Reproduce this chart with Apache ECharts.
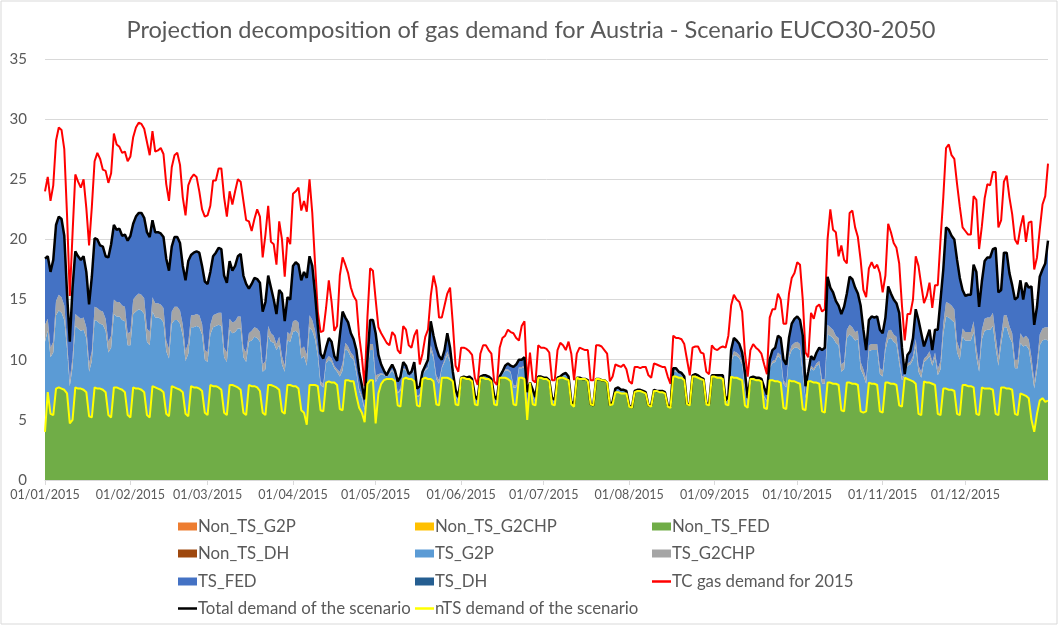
<!DOCTYPE html>
<html>
<head>
<meta charset="utf-8">
<script src="https://cdn.jsdelivr.net/npm/echarts@6/dist/echarts.min.js"></script>
<style>
  html, body { margin: 0; padding: 0; background: #fff; }
  #chart { width: 1062px; height: 626px; }
</style>
</head>
<body>
<div id="chart"></div>
<script>
// Daily gas demand, Austria, 2015 (one row = one week, Thu..Wed)

// non-TS final energy demand (green area, also the yellow nTS line)
var NON_TS_FED = [
  4.0, 7.3, 5.5, 5.4, 7.6, 7.7, 7.6,
  7.5, 7.2, 4.7, 5.0, 7.7, 7.6, 7.6,
  7.5, 7.3, 5.3, 5.2, 7.7, 7.6, 7.6,
  7.5, 7.3, 5.4, 5.2, 7.7, 7.7, 7.6,
  7.5, 7.3, 5.4, 5.2, 7.7, 7.6, 7.6,
  7.5, 7.3, 5.4, 5.2, 7.8, 7.7, 7.6,
  7.5, 7.3, 5.5, 5.3, 7.8, 7.7, 7.6,
  7.5, 7.3, 5.5, 5.3, 7.8, 7.7, 7.7,
  7.6, 7.4, 5.6, 5.4, 7.9, 7.8, 7.8,
  7.7, 7.5, 5.6, 5.4, 7.9, 7.9, 7.8,
  7.7, 7.5, 5.6, 5.4, 7.9, 7.8, 7.8,
  7.7, 7.4, 5.6, 5.4, 7.9, 7.9, 7.8,
  7.7, 7.5, 5.7, 5.5, 7.9, 7.9, 7.8,
  7.8, 7.6, 5.8, 5.6, 4.6, 7.9, 7.9,
  7.9, 7.8, 5.8, 5.7, 8.1, 8.2, 8.1,
  8.1, 7.9, 5.9, 5.8, 8.3, 8.3, 8.2,
  8.2, 7.0, 6.0, 5.6, 4.8, 8.0, 8.3,
  8.3, 4.7, 7.2, 8.0, 8.3, 8.4, 8.4,
  8.4, 8.2, 6.2, 6.1, 8.4, 8.5, 8.4,
  8.4, 8.2, 6.2, 6.1, 8.4, 8.5, 8.4,
  8.4, 8.2, 6.3, 6.2, 8.5, 8.5, 8.5,
  8.4, 8.2, 6.3, 6.2, 8.5, 8.5, 8.4,
  8.4, 8.2, 6.3, 6.2, 8.5, 8.5, 8.4,
  8.4, 8.2, 6.3, 6.2, 8.5, 8.5, 8.5,
  8.4, 8.2, 6.3, 6.2, 8.5, 8.5, 8.4,
  5.0, 8.1, 6.3, 6.2, 8.5, 8.5, 8.4,
  8.4, 8.2, 6.3, 6.2, 8.4, 8.5, 8.5,
  8.4, 8.3, 6.3, 6.1, 8.5, 8.4, 8.4,
  8.4, 8.2, 6.3, 6.2, 8.4, 8.4, 8.3,
  8.3, 8.1, 6.2, 6.3, 7.3, 7.3, 7.2,
  7.2, 7.2, 6.1, 6.0, 7.3, 7.4, 7.4,
  7.3, 7.2, 6.2, 6.1, 7.4, 7.4, 7.3,
  7.3, 7.2, 6.1, 6.0, 8.6, 8.6, 8.5,
  8.5, 8.3, 6.3, 6.2, 8.6, 8.6, 8.5,
  8.4, 8.3, 6.3, 6.2, 8.6, 8.6, 8.5,
  8.5, 8.4, 6.3, 6.2, 8.6, 8.5, 8.5,
  8.4, 8.3, 6.2, 6.0, 8.4, 8.4, 8.3,
  8.3, 8.2, 6.0, 5.9, 8.3, 8.3, 8.2,
  8.2, 8.1, 6.0, 5.9, 8.3, 8.2, 8.2,
  8.1, 8.0, 5.9, 5.8, 8.2, 8.2, 8.1,
  8.1, 8.0, 5.7, 5.6, 8.1, 8.1, 8.0,
  8.0, 7.9, 5.8, 5.7, 8.1, 8.1, 8.0,
  8.0, 7.9, 5.7, 5.6, 5.7, 8.1, 8.0,
  8.0, 7.9, 5.7, 5.6, 8.1, 8.1, 8.0,
  8.0, 7.9, 6.2, 6.1, 8.5, 8.4, 8.3,
  8.2, 8.0, 5.5, 5.4, 8.2, 8.1, 8.1,
  8.0, 7.9, 5.5, 5.4, 7.6, 7.6, 7.5,
  7.5, 7.4, 5.5, 5.4, 7.9, 7.9, 7.8,
  7.8, 7.7, 5.5, 5.4, 7.7, 7.6, 7.6,
  7.6, 7.5, 5.5, 5.4, 7.7, 7.7, 7.6,
  7.6, 7.5, 5.5, 5.4, 7.2, 7.1, 7.0,
  6.8, 5.0, 4.0, 5.5, 6.6, 6.8, 6.5,
  6.6
];

var TS_G2P = [
  7.5, 5.1, 4.7, 5.2, 6.1, 6.4, 6.3,
  5.8, 3.7, 3.1, 4.4, 5.1, 5.0, 4.8,
  5.0, 4.5, 3.7, 4.7, 5.6, 5.6, 5.4,
  5.4, 5.1, 5.2, 5.8, 6.1, 5.9, 6.0,
  5.8, 5.9, 5.8, 6.0, 6.1, 6.4, 6.6,
  6.6, 6.5, 6.1, 6.0, 6.2, 5.8, 5.9,
  5.9, 5.8, 5.2, 4.8, 5.2, 5.6, 5.7,
  5.5, 4.7, 4.4, 5.2, 4.9, 5.0, 5.1,
  5.1, 4.7, 4.4, 4.4, 4.2, 4.9, 5.0,
  5.2, 5.3, 4.6, 4.4, 4.6, 4.3, 4.5,
  4.9, 5.1, 4.6, 4.4, 3.6, 3.8, 4.1,
  4.1, 4.1, 3.4, 3.8, 4.1, 3.6, 3.6,
  3.1, 3.7, 3.9, 3.5, 3.7, 3.6, 4.5,
  4.6, 4.6, 4.3, 4.7, 4.9, 4.8, 4.5,
  3.8, 2.5, 2.1, 2.0, 1.6, 1.8, 1.7,
  1.2, 1.1, 2.7, 3.3, 2.6, 2.4, 2.0,
  1.8, 1.9, 1.4, 1.2, 1.0, 1.1, 2.5,
  2.5, 3.4, 1.4, 0.8, 0.4, 0.2, 0.4,
  0.7, 0.5, 1.0, 1.3, 0.8, 0.6, 0.2,
  0.3, 0.9, 0.7, 0.9, 0.3, 0.6, 0.9,
  2.4, 1.9, 2.1, 1.8, 0.8, 1.3, 1.9,
  1.4, 0.4, 0.6, 0.4, 0.0, 0.1, 0.1,
  0.1, 0.1, 0.4, 0.3, 0.1, 0.1, 0.2,
  0.1, 0.1, 0.4, 0.3, 0.1, 0.3, 0.6,
  0.7, 0.7, 1.4, 1.5, 0.8, 0.8, 1.0,
  1.2, 0.0, 0.6, 0.3, 0.1, 0.1, 0.1,
  0.1, 0.1, 0.3, 0.3, 0.1, 0.1, 0.2,
  0.3, 0.2, 0.1, 0.1, 0.0, 0.1, 0.0,
  0.0, 0.1, 0.0, 0.0, 0.0, 0.0, 0.0,
  0.0, 0.0, 0.0, 0.1, 0.2, 0.2, 0.2,
  0.2, 0.1, 0.1, 0.0, 0.1, 0.1, 0.1,
  0.1, 0.1, 0.0, 0.1, 0.1, 0.0, 0.1,
  0.1, 0.1, 0.1, 0.1, 0.4, 0.4, 0.3,
  0.2, 0.2, 0.0, 0.1, 0.1, 0.1, 0.1,
  0.1, 0.1, 0.1, 0.1, 0.1, 0.1, 0.1,
  0.1, 0.2, 0.2, 0.4, 1.2, 1.9, 1.8,
  1.7, 1.3, 1.4, 0.4, 0.1, 0.1, 0.1,
  0.1, 0.1, 0.9, 0.6, 1.0, 1.4, 1.6,
  2.1, 2.0, 2.0, 1.8, 1.9, 2.6, 2.8,
  2.9, 2.8, 2.9, 1.0, 0.4, 1.1, 1.0,
  1.4, 1.6, 2.3, 2.4, 4.0, 3.9, 3.8,
  3.4, 3.3, 3.2, 3.5, 3.7, 4.0, 3.9,
  3.6, 3.8, 3.5, 3.1, 2.3, 2.6, 2.8,
  2.8, 2.9, 3.1, 3.0, 2.7, 3.6, 3.8,
  3.5, 3.4, 3.5, 2.2, 0.2, 1.1, 1.3,
  1.8, 3.1, 3.5, 3.1, 1.6, 1.9, 2.2,
  1.5, 2.3, 3.2, 3.8, 4.5, 6.0, 6.0,
  5.8, 5.7, 5.1, 4.6, 4.0, 3.7, 3.8,
  3.8, 4.6, 4.7, 3.6, 4.0, 4.8, 4.9,
  4.9, 5.3, 5.5, 4.1, 3.6, 5.0, 5.1,
  4.3, 3.9, 3.8, 3.9, 4.2, 4.0, 4.2,
  4.1, 4.4, 3.6, 3.6, 4.6, 4.8, 5.2,
  5.0
];

var TS_G2CHP = [
  1.4, 1.0, 0.8, 0.9, 1.2, 1.3, 1.3,
  1.2, 0.7, 0.5, 0.8, 1.0, 1.0, 1.0,
  1.0, 0.9, 0.7, 0.8, 1.1, 1.1, 1.1,
  1.1, 1.0, 0.9, 1.0, 1.2, 1.2, 1.2,
  1.2, 1.2, 1.0, 1.1, 1.2, 1.3, 1.3,
  1.3, 1.3, 1.1, 1.1, 1.2, 1.2, 1.2,
  1.2, 1.2, 0.9, 0.8, 1.0, 1.1, 1.1,
  1.1, 0.9, 0.8, 0.9, 1.0, 1.0, 1.0,
  1.0, 0.9, 0.8, 0.8, 0.8, 1.0, 1.0,
  1.0, 1.1, 0.8, 0.8, 0.9, 0.9, 0.9,
  1.0, 1.0, 0.8, 0.8, 0.7, 0.8, 0.8,
  0.8, 0.8, 0.6, 0.7, 0.8, 0.7, 0.6,
  0.5, 0.7, 0.7, 0.5, 0.7, 0.6, 0.9,
  0.9, 0.9, 0.8, 0.8, 0.9, 1.0, 0.9,
  0.7, 0.5, 0.3, 0.3, 0.3, 0.3, 0.3,
  0.2, 0.2, 0.4, 0.6, 0.5, 0.4, 0.4,
  0.3, 0.3, 0.2, 0.2, 0.2, 0.2, 0.5,
  0.5, 0.6, 0.2, 0.1, 0.1, 0.0, 0.1,
  0.1, 0.1, 0.1, 0.2, 0.1, 0.1, 0.0,
  0.0, 0.1, 0.1, 0.1, 0.0, 0.1, 0.1,
  0.4, 0.3, 0.3, 0.3, 0.1, 0.2, 0.3,
  0.2, 0.1, 0.1, 0.0, 0.0, 0.0, 0.0,
  0.0, 0.0, 0.0, 0.0, 0.0, 0.0, 0.0,
  0.0, 0.0, 0.0, 0.0, 0.0, 0.0, 0.1,
  0.1, 0.1, 0.2, 0.2, 0.1, 0.1, 0.1,
  0.2, 0.0, 0.1, 0.0, 0.0, 0.0, 0.0,
  0.0, 0.0, 0.0, 0.0, 0.0, 0.0, 0.0,
  0.0, 0.0, 0.0, 0.0, 0.0, 0.0, 0.0,
  0.0, 0.0, 0.0, 0.0, 0.0, 0.0, 0.0,
  0.0, 0.0, 0.0, 0.0, 0.0, 0.0, 0.0,
  0.0, 0.0, 0.0, 0.0, 0.0, 0.0, 0.0,
  0.0, 0.0, 0.0, 0.0, 0.0, 0.0, 0.0,
  0.0, 0.0, 0.0, 0.0, 0.1, 0.1, 0.0,
  0.0, 0.0, 0.0, 0.0, 0.0, 0.0, 0.0,
  0.0, 0.0, 0.0, 0.0, 0.0, 0.0, 0.0,
  0.0, 0.0, 0.0, 0.1, 0.2, 0.3, 0.3,
  0.3, 0.2, 0.2, 0.1, 0.0, 0.0, 0.0,
  0.0, 0.0, 0.1, 0.1, 0.1, 0.2, 0.2,
  0.3, 0.3, 0.3, 0.3, 0.3, 0.4, 0.4,
  0.5, 0.5, 0.4, 0.1, 0.1, 0.2, 0.2,
  0.2, 0.3, 0.4, 0.4, 0.8, 0.7, 0.7,
  0.6, 0.6, 0.6, 0.6, 0.7, 0.8, 0.8,
  0.7, 0.7, 0.6, 0.5, 0.4, 0.5, 0.5,
  0.5, 0.5, 0.5, 0.5, 0.5, 0.7, 0.7,
  0.6, 0.6, 0.5, 0.3, 0.0, 0.2, 0.2,
  0.3, 0.6, 0.5, 0.5, 0.3, 0.3, 0.4,
  0.3, 0.4, 0.5, 0.7, 0.9, 1.2, 1.2,
  1.2, 1.1, 0.9, 0.8, 0.7, 0.7, 0.7,
  0.7, 0.9, 0.8, 0.6, 0.8, 1.0, 1.0,
  1.0, 1.1, 1.0, 0.7, 0.7, 1.0, 1.0,
  0.9, 0.8, 0.7, 0.7, 0.8, 0.7, 0.8,
  0.8, 0.8, 0.6, 0.6, 0.9, 1.0, 1.0,
  1.1
];

// total demand of the scenario (black line, top of the stack)
var TOTAL = [
  18.4, 18.6, 17.3, 18.3, 21.2, 21.9, 21.7,
  20.3, 15.5, 11.5, 16.0, 19.0, 18.6, 18.3,
  18.6, 17.3, 14.6, 16.9, 20.1, 20.0, 19.5,
  19.4, 18.6, 18.5, 19.6, 21.2, 20.8, 20.9,
  20.3, 20.4, 19.9, 20.3, 21.3, 21.9, 22.2,
  22.2, 21.8, 20.6, 20.2, 21.6, 20.6, 20.6,
  20.5, 20.2, 18.4, 17.4, 19.4, 20.2, 20.2,
  19.7, 17.8, 16.6, 18.2, 18.7, 18.9, 19.0,
  18.9, 17.8, 16.5, 16.3, 17.3, 18.6, 18.9,
  19.3, 19.2, 17.0, 16.4, 18.2, 17.4, 17.8,
  18.6, 18.8, 17.0, 16.3, 15.9, 16.3, 16.8,
  16.7, 16.4, 14.0, 14.8, 17.0, 16.0, 15.0,
  13.8, 15.8, 15.5, 13.2, 15.2, 15.0, 17.8,
  18.1, 17.9, 16.6, 17.3, 16.8, 18.6, 17.8,
  15.5, 12.8, 10.5, 10.1, 11.0, 11.8, 11.5,
  10.3, 9.9, 12.0, 14.0, 13.5, 13.1, 12.2,
  11.7, 10.8, 9.0, 7.9, 6.7, 10.0, 13.3,
  13.3, 12.2, 10.4, 9.6, 9.1, 8.7, 9.2,
  9.6, 9.1, 8.2, 8.6, 9.8, 9.5, 8.8,
  9.0, 9.8, 7.6, 7.8, 9.0, 9.5, 10.0,
  13.2, 12.0, 11.0, 10.3, 10.0, 10.8, 12.2,
  11.0, 9.0, 7.5, 6.9, 8.5, 8.6, 8.5,
  8.6, 8.4, 7.0, 6.7, 8.6, 8.7, 8.7,
  8.6, 8.4, 7.0, 6.7, 8.6, 9.0, 9.5,
  9.7, 9.5, 9.4, 9.6, 10.0, 10.0, 10.2,
  7.3, 8.1, 7.5, 6.9, 8.6, 8.6, 8.5,
  8.5, 8.3, 6.8, 6.7, 8.5, 8.6, 8.8,
  8.9, 8.6, 6.5, 6.3, 8.5, 8.5, 8.4,
  8.4, 8.3, 6.3, 6.2, 8.4, 8.4, 8.3,
  8.3, 8.1, 6.2, 6.5, 7.6, 7.7, 7.5,
  7.5, 7.4, 6.2, 6.0, 7.4, 7.5, 7.5,
  7.4, 7.3, 6.2, 6.2, 7.5, 7.4, 7.4,
  7.4, 7.3, 6.2, 6.1, 9.3, 9.3, 9.0,
  8.9, 8.6, 6.3, 6.3, 8.7, 8.8, 8.7,
  8.5, 8.4, 6.4, 6.3, 8.7, 8.7, 8.7,
  8.7, 8.7, 6.6, 7.0, 10.8, 11.8, 11.6,
  11.3, 10.6, 9.0, 6.8, 8.5, 8.6, 8.5,
  8.5, 8.4, 7.7, 7.1, 10.0, 10.8, 11.0,
  12.0, 11.8, 10.0, 9.6, 11.8, 13.0, 13.4,
  13.6, 13.3, 12.0, 7.8, 9.0, 10.3, 10.0,
  10.6, 11.0, 10.8, 11.0, 16.9, 16.0, 15.6,
  14.9, 14.5, 13.8, 14.4, 15.5, 16.9, 16.7,
  16.0, 15.5, 14.5, 12.5, 10.8, 13.3, 13.6,
  13.5, 13.6, 12.5, 12.2, 13.5, 16.1, 15.5,
  15.0, 14.7, 13.9, 11.0, 8.8, 10.4, 10.7,
  11.8, 14.2, 13.3, 12.2, 11.1, 11.8, 12.5,
  10.8, 12.5, 12.5, 15.0, 17.5, 21.0, 20.8,
  20.3, 20.0, 18.3, 16.8, 15.8, 15.3, 15.4,
  15.4, 17.9, 17.3, 14.4, 16.5, 18.2, 18.5,
  18.5, 19.2, 19.3, 15.6, 15.8, 18.9, 18.9,
  17.2, 16.2, 15.0, 15.2, 16.6, 15.0, 16.4,
  16.0, 16.1, 12.9, 14.4, 16.9, 17.5, 18.0,
  19.9
];

// TC gas demand for 2015 (red line)
var TC_2015 = [
  24.0, 25.2, 23.2, 24.5, 28.2, 29.3, 29.1,
  27.5, 22.0, 15.3, 20.5, 25.4, 24.8, 24.3,
  25.0, 22.6, 19.5, 22.7, 26.5, 27.2, 26.7,
  25.8, 25.7, 24.7, 25.5, 28.8, 27.9, 27.7,
  27.2, 27.3, 26.5, 26.9, 28.5, 29.3, 29.7,
  29.6, 29.2, 28.1, 27.0, 29.0, 27.3, 27.4,
  27.6, 27.1, 24.6, 23.2, 26.0, 27.0, 27.2,
  26.2, 23.5, 22.0, 24.5, 25.1, 25.4, 25.2,
  24.0, 22.5, 21.9, 22.0, 22.8, 24.9, 24.9,
  25.9, 25.9, 23.5, 21.9, 24.0, 22.9, 24.0,
  25.0, 24.8, 23.2, 21.6, 21.5, 20.7, 21.7,
  22.5, 21.9, 18.5, 20.4, 22.8, 19.8, 19.6,
  17.9, 21.5, 20.0, 16.9, 20.2, 19.6, 23.8,
  24.0, 24.3, 22.4, 23.2, 22.3, 25.0, 22.2,
  18.0, 14.0, 12.3, 12.4, 14.3, 16.6, 14.8,
  12.4, 12.8, 17.0, 18.5, 17.9, 17.2, 16.0,
  15.3, 14.9, 12.0, 10.2, 7.8, 13.5, 17.6,
  17.4, 15.0, 12.7, 12.2, 11.8, 11.4, 11.2,
  12.3, 12.0, 10.8, 10.5, 12.8, 12.5, 11.2,
  11.0, 12.0, 12.5, 9.6, 10.5, 11.9, 12.5,
  15.3, 17.0, 16.0, 13.5, 13.5, 14.5, 15.5,
  16.0, 13.0, 9.5, 9.0, 11.0, 11.0, 10.9,
  10.7, 10.4, 8.5, 7.9, 10.5, 11.2, 11.2,
  10.8, 10.5, 8.2, 7.9, 11.0, 11.8, 12.0,
  12.5, 12.3, 12.2, 11.8, 11.6, 12.8, 13.2,
  8.1, 10.6, 8.3, 8.1, 11.2, 11.0, 11.0,
  10.9, 10.6, 8.3, 8.3, 10.8, 11.4, 11.2,
  10.8, 11.5, 10.5, 8.3, 10.5, 11.0, 10.9,
  10.8, 10.8, 8.3, 8.3, 11.2, 11.2, 11.1,
  10.8, 10.5, 8.2, 8.6, 9.6, 9.5, 9.4,
  9.6, 9.2, 8.2, 8.0, 9.4, 9.4, 9.3,
  9.4, 9.4, 8.7, 8.5, 9.7, 9.6, 9.5,
  9.4, 9.4, 8.6, 8.0, 12.0, 11.8, 11.8,
  11.7, 11.3, 10.0, 8.7, 11.0, 11.1, 11.1,
  10.6, 10.5, 9.0, 8.8, 11.2, 10.9, 10.8,
  11.0, 11.1, 11.0, 12.0, 14.5, 15.4, 15.0,
  14.8, 14.0, 10.6, 8.6, 10.8, 11.3, 11.0,
  10.8, 10.5, 9.6, 8.8, 13.5, 14.2, 14.2,
  15.5, 15.0, 13.0, 13.0, 15.5, 16.8, 17.2,
  18.1, 17.9, 15.0, 10.6, 10.2, 13.9, 13.4,
  14.4, 14.6, 14.0, 14.2, 20.0, 22.5, 20.8,
  20.6, 18.6, 19.5, 18.3, 18.0, 22.2, 22.4,
  21.0, 20.2, 18.3, 15.8, 15.2, 17.6, 18.1,
  17.6, 17.9, 17.2, 15.6, 17.0, 21.3, 20.6,
  19.7, 19.3, 18.0, 14.5, 11.6, 13.8, 13.8,
  15.0, 18.6, 17.8, 16.2, 14.7, 15.3, 16.4,
  14.3, 16.2, 16.2, 20.0, 23.5, 27.6, 27.9,
  27.0, 26.7, 24.6, 22.7, 21.0, 20.7, 20.4,
  20.4, 23.6, 23.3, 19.2, 21.1, 23.4, 24.6,
  24.5, 25.6, 25.6, 21.0, 21.6, 24.8, 25.3,
  23.5, 22.1, 20.0, 19.6, 21.0, 22.0, 19.8,
  21.4, 21.5, 17.5, 18.5, 20.8, 22.9, 23.6,
  26.3
];

var Y_TICKS = { min: 0, max: 35, interval: 5 };

// one category per day, labelled like the source sheet
var DAYS = [];
(function () {
  var t = Date.UTC(2015, 0, 1);
  for (var i = 0; i < TOTAL.length; i++) {
    var d = new Date(t + i * 86400000);
    var dd = ('0' + d.getUTCDate()).slice(-2);
    var mm = ('0' + (d.getUTCMonth() + 1)).slice(-2);
    DAYS.push(dd + '/' + mm + '/2015');
  }
})();

// TS_FED is the rest of the stack up to the total line
var TS_FED = TOTAL.map(function (v, i) {
  var r = v - NON_TS_FED[i] - TS_G2P[i] - TS_G2CHP[i];
  return Math.max(0, Math.round(r * 100) / 100);
});

var FONT = 'Lato, "Open Sans", sans-serif';
var TEXT = '#595959';
var GRID_LINE = '#d9d9d9';

function isMonthStart(idx, val) {
  return String(val).slice(0, 2) === '01';
}

function areaSeries(name, color, data) {
  return {
    name: name,
    type: 'line',
    stack: 'demand',
    data: data,
    color: color,
    symbol: 'none',
    showSymbol: false,
    lineStyle: { width: 0, color: color },
    areaStyle: { color: color, opacity: 1 },
    emphasis: { disabled: true },
    animation: false
  };
}

function lineSeries(name, color, width, data) {
  return {
    name: name,
    type: 'line',
    data: data,
    color: color,
    symbol: 'none',
    showSymbol: false,
    lineStyle: { width: width, color: color },
    emphasis: { disabled: true },
    animation: false
  };
}

// legend placed as the 3-column grid of the original
var COL_X = [178, 415, 652];
var ROW_Y = [528, 555, 583, 610];
var LEGEND_ITEMS = [
  ['Non_TS_G2P', 0, 0, 'area'], ['Non_TS_G2CHP', 1, 0, 'area'], ['Non_TS_FED', 2, 0, 'area'],
  ['Non_TS_DH', 0, 1, 'area'], ['TS_G2P', 1, 1, 'area'], ['TS_G2CHP', 2, 1, 'area'],
  ['TS_FED', 0, 2, 'area'], ['TS_DH', 1, 2, 'area'], ['TC gas demand for 2015', 2, 2, 'line'],
  ['Total demand of the scenario', 0, 3, 'line'], ['nTS demand of the scenario', 1, 3, 'line']
];

var legends = LEGEND_ITEMS.map(function (it) {
  var isLine = it[3] === 'line';
  return {
    data: [{ name: it[0], icon: 'rect' }],
    left: COL_X[it[1]],
    top: ROW_Y[it[2]] - 10,
    itemWidth: 19,
    itemHeight: isLine ? 2.5 : 8,
    itemGap: 0,
    padding: 0,
    selectedMode: false,
    textStyle: { fontFamily: FONT, fontSize: 16.8, color: TEXT, padding: [0, 0, 0, -4] }
  };
});

var chart = echarts.init(document.getElementById('chart'), null, { renderer: 'canvas' });

chart.setOption({
  backgroundColor: '#fff',
  animation: false,
  title: {
    text: 'Projection decomposition of gas demand for Austria - Scenario EUCO30-2050',
    left: 'center',
    top: 13,
    textStyle: { fontFamily: FONT, fontSize: 23.6, fontWeight: 'normal', color: TEXT }
  },
  graphic: [{
    type: 'rect',
    shape: { x: 1, y: 1, width: 1056, height: 623 },
    style: { fill: 'none', stroke: GRID_LINE, lineWidth: 1 },
    silent: true
  }],
  legend: legends,
  grid: { left: 45, right: 14, top: 59, bottom: 146, containLabel: false },
  xAxis: {
    type: 'category',
    data: DAYS,
    boundaryGap: false,
    axisLine: { lineStyle: { color: GRID_LINE, width: 1 } },
    axisTick: { show: true, interval: isMonthStart, length: 5, lineStyle: { color: GRID_LINE } },
    axisLabel: {
      interval: isMonthStart,
      fontFamily: FONT, fontSize: 12.5, color: TEXT, margin: 8
    },
    splitLine: { show: false }
  },
  yAxis: {
    type: 'value',
    min: Y_TICKS.min,
    max: Y_TICKS.max,
    interval: Y_TICKS.interval,
    axisLine: { show: false },
    axisTick: { show: false },
    axisLabel: { fontFamily: FONT, fontSize: 15, color: TEXT, margin: 18 },
    splitLine: { lineStyle: { color: GRID_LINE, width: 1 } }
  },
  series: [
    areaSeries('Non_TS_G2P', '#ED7D31', []),
    areaSeries('Non_TS_G2CHP', '#FFC000', []),
    areaSeries('Non_TS_FED', '#70AD47', NON_TS_FED),
    areaSeries('Non_TS_DH', '#9E480E', []),
    areaSeries('TS_G2P', '#5B9BD5', TS_G2P),
    areaSeries('TS_G2CHP', '#A5A5A5', TS_G2CHP),
    areaSeries('TS_FED', '#4472C4', TS_FED),
    areaSeries('TS_DH', '#255E91', []),
    lineSeries('TC gas demand for 2015', '#FF0000', 2, TC_2015),
    lineSeries('Total demand of the scenario', '#000000', 2.5, TOTAL),
    lineSeries('nTS demand of the scenario', '#FFFF00', 2, NON_TS_FED)
  ]
});
</script>
</body>
</html>
